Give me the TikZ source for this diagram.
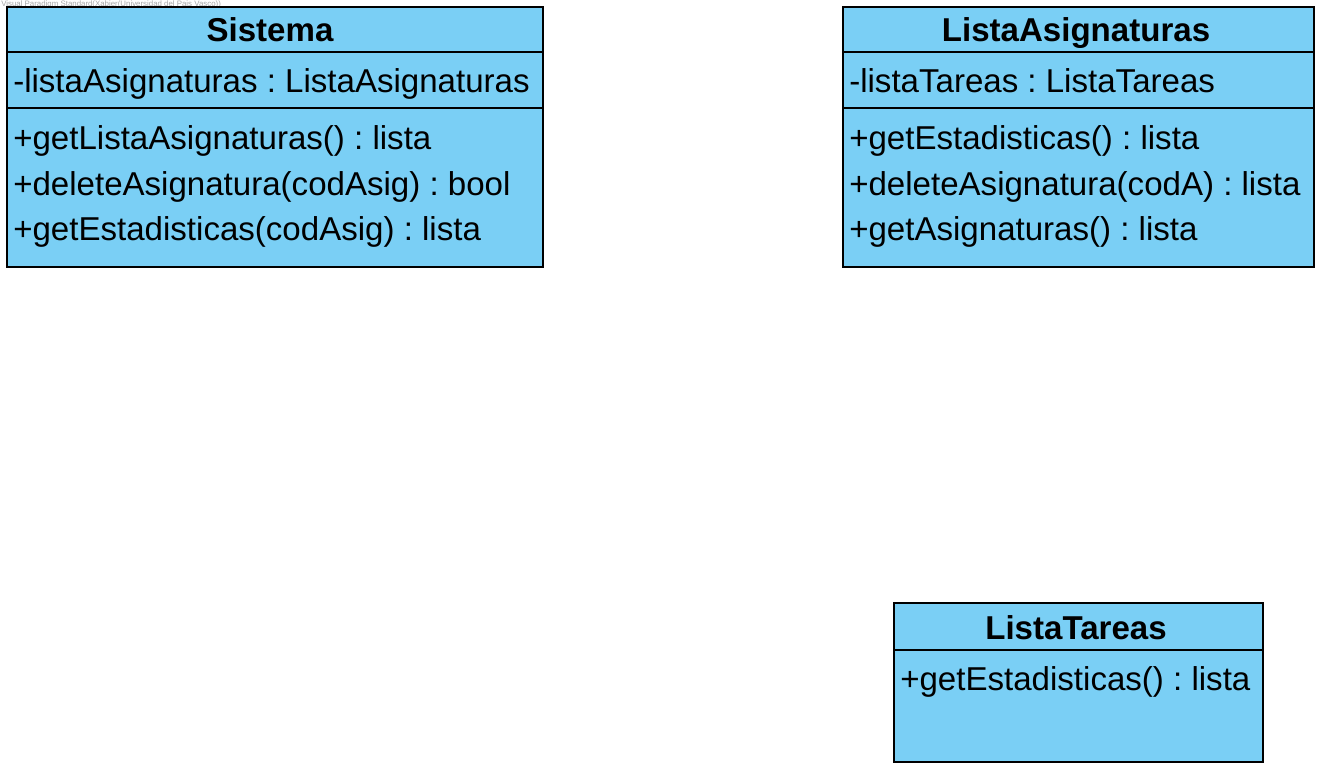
\documentclass[tikz,border=0pt]{standalone}
\usepackage{fontspec}
\setmainfont{Liberation Sans}
\usetikzlibrary{positioning}
\frenchspacing

\definecolor{vpblue}{RGB}{122,207,245}
\tikzset{
    umlbox/.style={draw=black, fill=vpblue, line width=2.2pt},
    umlline/.style={draw=black, line width=2.2pt},
    classname/.style={font=\fontsize{24.8}{29}\selectfont\bfseries, anchor=base, inner sep=0pt},
    member/.style={font=\fontsize{24.8}{29}\selectfont, anchor=base west, inner sep=0pt},
}

\begin{document}
\begin{tikzpicture}[x=0.75pt,y=-0.75pt]
    \useasboundingbox (0,0) rectangle (1326,774);
    % Watermark
    \node[font=\fontsize{5.9}{6}\selectfont, text=gray!70, anchor=north west, inner sep=0pt] (mark) at (1,1)
        {Visual Paradigm Standard(Xabier(Universidad del Pais Vasco))};
    % Sistema
    \draw[umlbox] (7,7) rectangle (543,267);
    \draw[umlline] (7,52) -- (543,52);
    \draw[umlline] (7,108) -- (543,108);
    \node[classname] (sisName) at (270,42) {Sistema};
    \node[member] (sisAttr) at (13,93) {-listaAsignaturas : ListaAsignaturas};
    \node[member] (sisOpA) at (13,149) {+getListaAsignaturas() : lista};
    \node[member] (sisOpB) at (13,195) {+deleteAsignatura(codAsig) : bool};
    \node[member] (sisOpC) at (13,240) {+getEstadisticas(codAsig) : lista};
    % ListaAsignaturas
    \draw[umlbox] (843,7) rectangle (1314,267);
    \draw[umlline] (843,52) -- (1314,52);
    \draw[umlline] (843,108) -- (1314,108);
    \node[classname] (asigName) at (1076,42) {ListaAsignaturas};
    \node[member] (asigAttr) at (849,93) {-listaTareas : ListaTareas};
    \node[member] (asigOpA) at (849,149) {+getEstadisticas() : lista};
    \node[member] (asigOpB) at (849,195) {+deleteAsignatura(codA) : lista};
    \node[member] (asigOpC) at (849,240) {+getAsignaturas() : lista};
    % ListaTareas
    \draw[umlbox] (894,603) rectangle (1263,762);
    \draw[umlline] (894,650) -- (1263,650);
    \node[classname] (tarName) at (1076,639) {ListaTareas};
    \node[member] (tarOpA) at (900,690) {+getEstadisticas() : lista};
\end{tikzpicture}
\end{document}
